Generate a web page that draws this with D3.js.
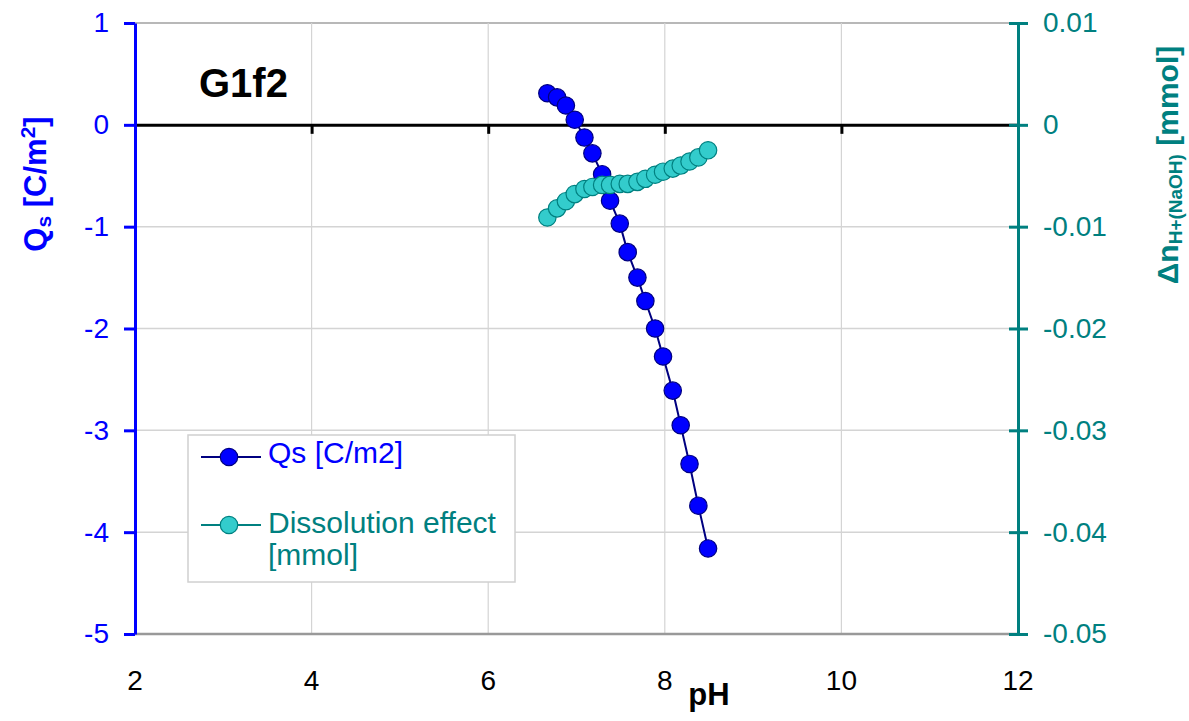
<!DOCTYPE html>
<html>
<head>
<meta charset="utf-8">
<script src="https://cdn.jsdelivr.net/npm/d3@7"></script>
<style>
  body { margin: 0; background: #fff; }
  text { font-family: "Liberation Sans", Arial, sans-serif; }
</style>
</head>
<body>
<script>
// ----------------------------------------
//  Data
// ----------------------------------------
var pH = [6.67, 6.78, 6.88, 6.98, 7.09, 7.18, 7.29, 7.38, 7.49, 7.58,
          7.69, 7.78, 7.89, 7.98, 8.09, 8.18, 8.28, 8.38, 8.49];
var qs = [0.31, 0.27, 0.19, 0.05, -0.125, -0.28, -0.485, -0.745, -0.97, -1.25,
          -1.50, -1.73, -2.00, -2.275, -2.61, -2.95, -3.33, -3.74, -4.16];
var dissolution = [-0.0091, -0.0082, -0.0075, -0.0068, -0.0063, -0.0061, -0.0059, -0.0059, -0.0058, -0.0058,
                   -0.0056, -0.0053, -0.0049, -0.0046, -0.0043, -0.0040, -0.0036, -0.0032, -0.0025];
var xTicks = [2, 4, 6, 8, 10, 12];
var yTicks = [1, 0, -1, -2, -3, -4, -5];
var y2Ticks = [0.01, 0, -0.01, -0.02, -0.03, -0.04, -0.05];

var W = 1189, H = 721;
var margin = {top: 23, right: 171, bottom: 87, left: 135};
var width = W - margin.left - margin.right;
var height = H - margin.top - margin.bottom;

var blue = "#0000ff", navy = "#000080", teal = "#008080", aqua = "#33cccc";
var hyphen = function(s) { return String(s).replace("−", "-"); };

// ----------------------------------------
//  Scales
// ----------------------------------------
var x = d3.scaleLinear().domain([2, 12]).range([0, width]);
var y = d3.scaleLinear().domain([-5, 1]).range([height, 0]);
var y2 = d3.scaleLinear().domain([-0.05, 0.01]).range([height, 0]);

var svg = d3.select("body").append("svg")
    .attr("width", W)
    .attr("height", H);

var g = svg.append("g")
    .attr("transform", "translate(" + margin.left + "," + margin.top + ")");

// gridlines
g.append("g").selectAll("line.h")
    .data(yTicks)
    .enter().append("line")
    .attr("x1", 0).attr("x2", width)
    .attr("y1", function(d) { return y(d); })
    .attr("y2", function(d) { return y(d); })
    .attr("stroke", function(d) { return d === 1 ? "#a0a0a0" : "#d4d4d4"; })
    .attr("stroke-width", 1.5);

g.append("g").selectAll("line.v")
    .data(xTicks.slice(1, -1))
    .enter().append("line")
    .attr("y1", 0).attr("y2", height)
    .attr("x1", function(d) { return x(d); })
    .attr("x2", function(d) { return x(d); })
    .attr("stroke", "#d4d4d4")
    .attr("stroke-width", 1.2);

// bottom border
g.append("line")
    .attr("x1", 0).attr("x2", width)
    .attr("y1", height).attr("y2", height)
    .attr("stroke", "#999").attr("stroke-width", 2.5);

// zero line with ticks (x axis crossing at 0)
var xAxis = g.append("g")
    .attr("transform", "translate(0," + y(0) + ")")
    .call(d3.axisBottom(x).tickValues(xTicks).tickSize(9).tickFormat(""));
xAxis.select(".domain").attr("stroke", "#000").attr("stroke-width", 3);
xAxis.selectAll(".tick line").attr("stroke", "#000").attr("stroke-width", 3);

// x tick labels at bottom
g.append("g").selectAll("text")
    .data(xTicks)
    .enter().append("text")
    .attr("x", function(d) { return x(d); })
    .attr("y", height + 56)
    .attr("text-anchor", "middle")
    .attr("font-size", 28)
    .attr("fill", "#000")
    .text(function(d) { return d; });

g.append("text")
    .attr("x", x(8.5)).attr("y", height + 71)
    .attr("text-anchor", "middle")
    .attr("font-size", 31).attr("font-weight", "bold")
    .text("pH");

// left axis
var yAxis = g.append("g")
    .call(d3.axisLeft(y).tickValues(yTicks).tickSize(11).tickSizeOuter(0).tickPadding(15)
        .tickFormat(function(d) { return hyphen(d); }));
yAxis.select(".domain").attr("stroke", blue).attr("stroke-width", 3);
yAxis.selectAll(".tick line").attr("stroke", blue).attr("stroke-width", 3);
yAxis.selectAll(".tick text").attr("fill", blue).attr("font-size", 28)
    .attr("font-family", "Liberation Sans, Arial, sans-serif");

// right axis
var y2Axis = g.append("g")
    .attr("transform", "translate(" + width + ",0)")
    .call(d3.axisRight(y2).tickValues(y2Ticks).tickSize(10).tickSizeOuter(0).tickPadding(15)
        .tickFormat(function(d) { return d === 0 ? "0" : hyphen(d3.format(".2f")(d)); }));
y2Axis.select(".domain").attr("stroke", teal).attr("stroke-width", 3);
y2Axis.selectAll(".tick line").attr("stroke", teal).attr("stroke-width", 3).attr("x1", -9);
y2Axis.selectAll(".tick text").attr("fill", teal).attr("font-size", 28)
    .attr("font-family", "Liberation Sans, Arial, sans-serif");

// axis titles
var lt = svg.append("text")
    .attr("transform", "translate(46,184) rotate(-90)")
    .attr("text-anchor", "middle")
    .attr("font-size", 31).attr("font-weight", "bold")
    .attr("fill", blue);
lt.append("tspan").text("Q");
lt.append("tspan").attr("font-size", 21).attr("dy", 5).text("s");
lt.append("tspan").attr("dy", -5).text(" [C/m");
lt.append("tspan").attr("font-size", 21).attr("dy", -11).text("2");
lt.append("tspan").attr("dy", 11).text("]");

var rt = svg.append("text")
    .attr("transform", "translate(1178,165) rotate(-90)")
    .attr("text-anchor", "middle")
    .attr("font-size", 30).attr("font-weight", "bold")
    .attr("fill", teal);
rt.append("tspan").text("Δn");
rt.append("tspan").attr("font-size", 19).attr("dy", 4).text("H+(NaOH)");
rt.append("tspan").attr("dy", -4).text(" [mmol]");

// title
svg.append("text")
    .attr("x", 199).attr("y", 97)
    .attr("font-size", 40).attr("font-weight", "bold")
    .text("G1f2");

// ----------------------------------------
//  Series
// ----------------------------------------
var qsData = pH.map(function(p, i) { return {x: p, y: qs[i]}; });
var disData = pH.map(function(p, i) { return {x: p, y: dissolution[i]}; });

g.append("path")
    .datum(qsData)
    .attr("fill", "none").attr("stroke", navy).attr("stroke-width", 2)
    .attr("d", d3.line().x(function(d) { return x(d.x); }).y(function(d) { return y(d.y); }));

g.selectAll(".qs")
    .data(qsData)
    .enter().append("circle")
    .attr("class", "qs")
    .attr("cx", function(d) { return x(d.x); })
    .attr("cy", function(d) { return y(d.y); })
    .attr("r", 8.7)
    .attr("fill", blue).attr("stroke", navy).attr("stroke-width", 1.2);

g.append("path")
    .datum(disData)
    .attr("fill", "none").attr("stroke", teal).attr("stroke-width", 2)
    .attr("d", d3.line().x(function(d) { return x(d.x); }).y(function(d) { return y2(d.y); }));

g.selectAll(".dis")
    .data(disData)
    .enter().append("circle")
    .attr("class", "dis")
    .attr("cx", function(d) { return x(d.x); })
    .attr("cy", function(d) { return y2(d.y); })
    .attr("r", 8.7)
    .attr("fill", aqua).attr("stroke", teal).attr("stroke-width", 1.2);

// ----------------------------------------
//  Legend
// ----------------------------------------
var lg = svg.append("g").attr("transform", "translate(188,435)");
lg.append("rect")
    .attr("width", 327).attr("height", 147)
    .attr("fill", "#fff").attr("stroke", "#d0d0d0").attr("stroke-width", 1.5);

var items = [
  {label: ["Qs [C/m2]"], line: navy, fill: blue, stroke: navy, color: blue, y: 22, base: 28},
  {label: ["Dissolution effect", "[mmol]"], line: teal, fill: aqua, stroke: teal, color: teal, y: 90, base: 98}
];
items.forEach(function(it) {
  lg.append("line").attr("x1", 13).attr("x2", 73).attr("y1", it.y).attr("y2", it.y)
      .attr("stroke", it.line).attr("stroke-width", 2);
  lg.append("circle").attr("cx", 41).attr("cy", it.y).attr("r", 8.7)
      .attr("fill", it.fill).attr("stroke", it.stroke).attr("stroke-width", 1.2);
  it.label.forEach(function(t, j) {
    lg.append("text").attr("x", 80).attr("y", it.base + j * 32)
        .attr("font-size", 30).attr("fill", it.color).text(t);
  });
});
</script>
</body>
</html>
